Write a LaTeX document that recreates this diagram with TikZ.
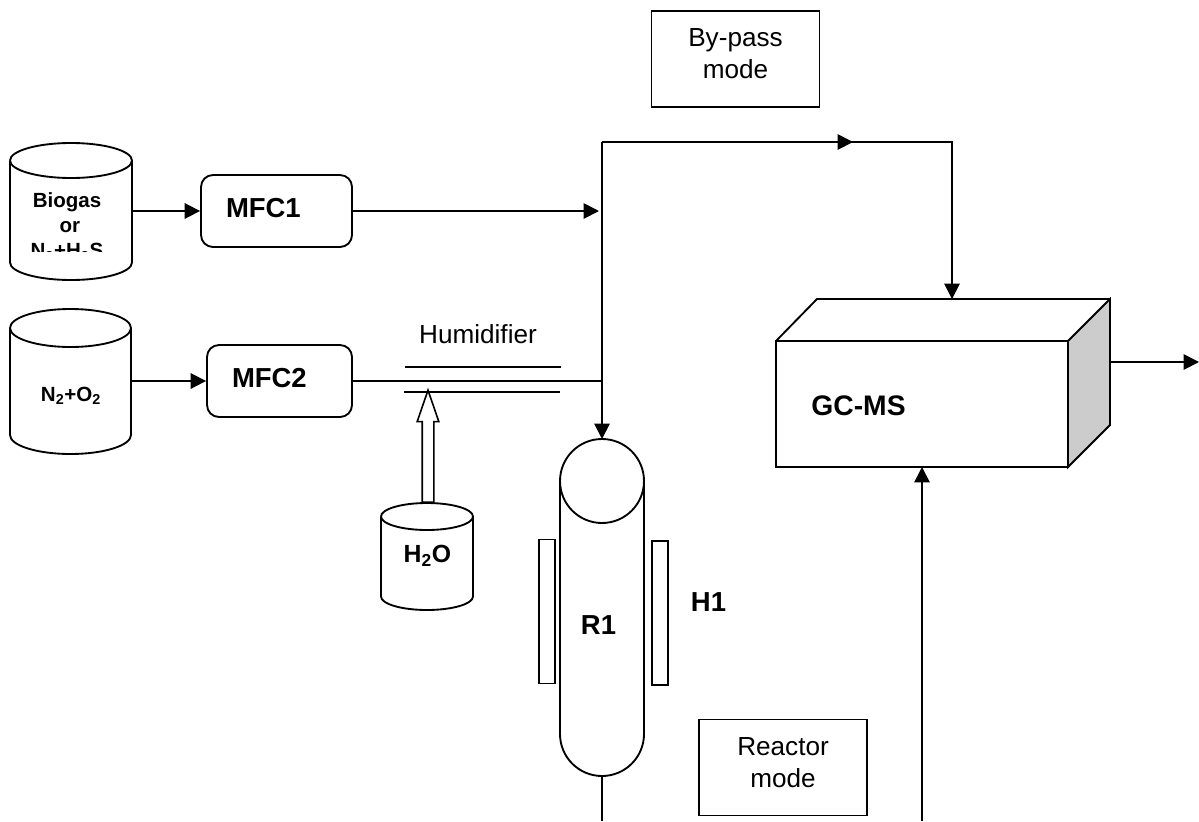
\documentclass[tikz,border=0pt]{standalone}
\usepackage{fontspec}
\setmainfont{Liberation Sans}
\usetikzlibrary{arrows.meta,shapes.arrows}
\newcommand{\tankbody}[3]{%
  \draw (#1.north west) ++(0,#2) coordinate (tl) arc[start angle=180, end angle=540, x radius=#3, y radius=#2];
  \draw (#1.south west) ++(0,-#2) coordinate (bl) arc[start angle=180, end angle=0, x radius=#3, y radius=#2] coordinate (br) -- (br |- tl) (tl) -- (bl);
}
\begin{document}
\begin{tikzpicture}[
    x=0.75pt, y=-0.75pt,
    line width=1.4pt,
    tank/.style={rectangle, inner sep=0pt, outer sep=0pt},
    mfc/.style={rectangle, draw, rounded corners=9pt, minimum height=54pt, text depth=6pt, text height=15pt, inner xsep=18.75pt, align=left, font=\bfseries\fontsize{20.6}{24}\selectfont},
    modebox/.style={rectangle, draw, align=center, minimum width=126pt, minimum height=72pt, text depth=7.5pt, font=\fontsize{19.6}{24}\selectfont},
    heater/.style={rectangle, draw, minimum width=12pt, minimum height=108pt, inner sep=0pt},
    lbl/.style={inner sep=0pt, font=\bfseries\fontsize{20.6}{24}\selectfont},
    arrow/.style={-{Triangle[length=11.5pt,width=11.5pt]}}
]
\useasboundingbox (0,0) rectangle (1199,821);
\fill[white] (0,0) rectangle (1199,821);

% Tanks
\node[tank, minimum width=91.5pt, minimum height=102.75pt] (biogas) at (71,211.5) {};
\node[tank, minimum width=90.75pt, minimum height=108.75pt] (mix) at (70.5,381.5) {};
\node[tank, minimum width=69pt, minimum height=80.25pt] (water) at (427,556.5) {};
\tankbody{biogas}{17.5}{61}
\tankbody{mix}{19}{60.5}
\tankbody{water}{13.5}{46}
\begin{scope}
\clip (20,170) rectangle (125,251.5);
\node[inner sep=0pt, align=center, font=\bfseries\fontsize{15.4}{18.7}\selectfont] (biogastext) at (67,227) {Biogas\\\ or\\N\textsubscript{2}+H\textsubscript{2}S};
\end{scope}
\node[lbl, font=\bfseries\fontsize{15.4}{18}\selectfont] (mixtext) at (71,396) {N\textsubscript{2}+O\textsubscript{2}};
\node[lbl, font=\bfseries\fontsize{18.6}{22}\selectfont] (watertext) at (427.5,556) {H\textsubscript{2}O};

% Flow controllers
\node[mfc, text width=75.75pt] (mfc1) at (276.5,211) {MFC1};
\node[mfc, text width=71.25pt] (mfc2) at (279.5,381) {MFC2};

% Reactor
\node[circle, draw, minimum size=63pt, inner sep=0pt, outer sep=0pt] (top) at (602,481) {};
\coordinate (bottom) at (602,776);
\draw (560,481) -- (560,734) arc[start angle=180, end angle=0, radius=42] -- (644,481);
\node[heater] (h1left) at (547,611.5) {};
\node[heater] (h1right) at (660,613) {};
\node[lbl] (r1) at (598.5,625) {R1};
\node[lbl] (h1) at (708.5,602) {H1};

% Humidifier
\node[inner sep=0pt, font=\fontsize{19.6}{22}\selectfont] (hum) at (478,334) {Humidifier};
\coordinate (joint) at (602,381);
\coordinate (plate1a) at (405,367);
\coordinate (plate1b) at (561,367);
\coordinate (plate2a) at (404,392);
\coordinate (plate2b) at (560,392);
\draw[line width=1.2pt] (plate1a) -- (plate1b);
\draw[line width=1.2pt] (plate2a) -- (plate2b);
\node[single arrow, draw, fill=white, rotate=90, anchor=tail, line width=1.2pt, inner sep=0pt, text height=7.5pt, text depth=0pt, minimum height=84pt, minimum width=15pt, single arrow head extend=3.75pt, single arrow tip angle=38, single arrow head indent=0pt] (steam) at (428,503) {};

% GC-MS
\node[rectangle, draw, minimum width=219pt, minimum height=94.5pt, inner sep=0pt, outer sep=0pt] (gcms) at (922,404) {};
\draw[fill=gray!40] (gcms.north east) -- (1110,299) -- (1110,425) -- (gcms.south east) -- cycle;
\draw (gcms.north west) -- (817,299) -- (1110,299);
\node[lbl, font=\bfseries\fontsize{21.2}{24}\selectfont] (gcmstext) at (858.5,406) {GC-MS};

% Mode boxes
\node[modebox] (bypass) at (735.5,59) {By-pass\\mode};
\node[modebox] (reactor) at (783,767.5) {Reactor\\mode};

% Arrows
\coordinate (rise) at (602,142);
\coordinate (turn) at (952,142);
\coordinate (mid) at (853,142);
\coordinate (gcin) at (952,299);
\coordinate (out) at (1199,362);
\coordinate (entry) at (599,211);
\coordinate (inlet) at (922,821);
\coordinate (drain) at (602,821);
\draw[arrow] (biogas.east |- mfc1) -- (mfc1);
\draw[arrow] (mix.east |- mfc2) -- (mfc2);
\draw[arrow] (mfc1) -- (entry);
\draw (mfc2) -- (joint);
\draw[arrow] (rise) -- (top.north);
\draw[arrow] (rise) -- (mid);
\draw[arrow] (rise) -- (turn) -- (gcin);
\draw[arrow] (1110,362) -- (out);
\draw[arrow] (inlet) -- (inlet |- gcms.south);
\draw (bottom) -- (drain);
\end{tikzpicture}
\end{document}
